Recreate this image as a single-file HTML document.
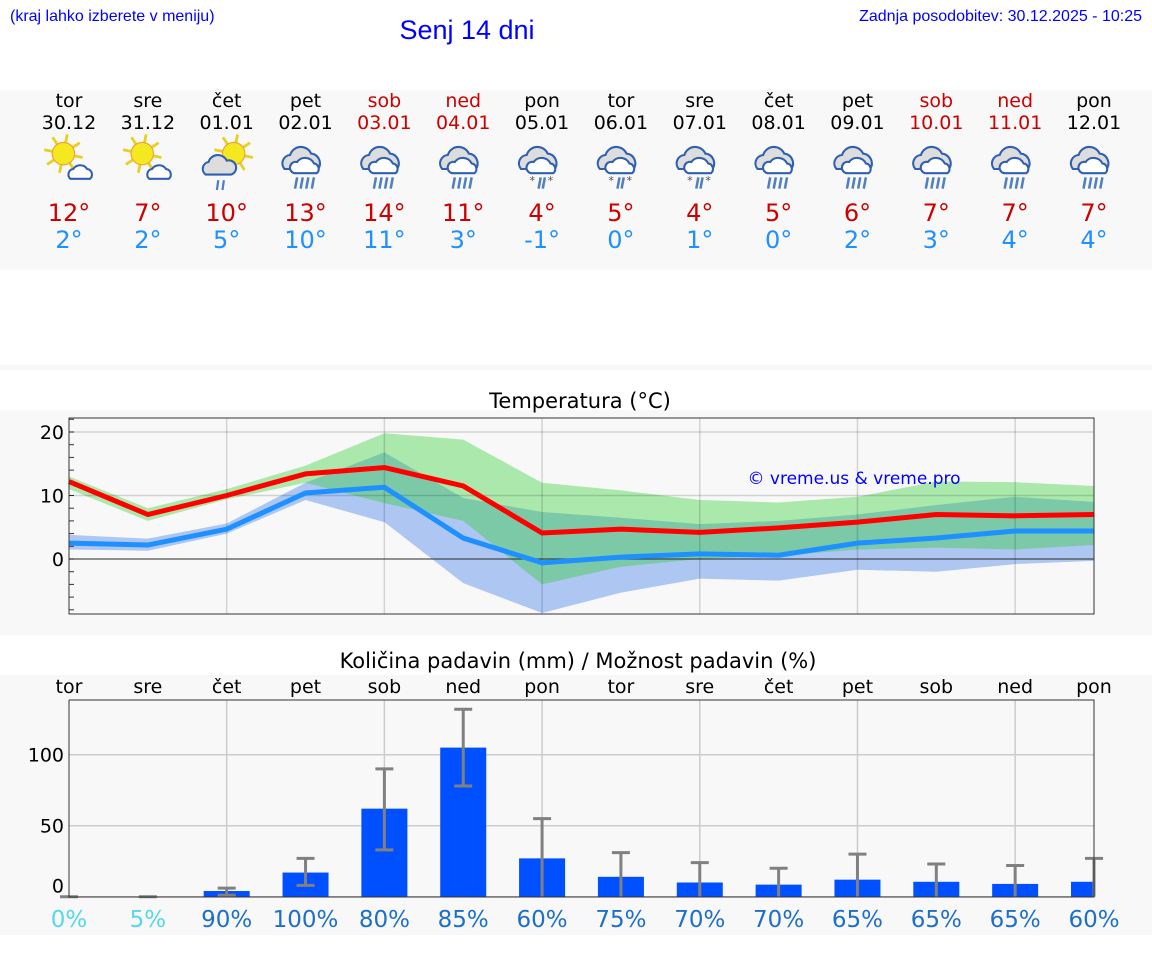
<!DOCTYPE html>
<html><head><meta charset="utf-8"><style>
body{margin:0;background:#fff;width:1152px;height:975px;overflow:hidden;font-family:"Liberation Sans","DejaVu Sans",sans-serif}
svg text{font-family:"DejaVu Sans","Liberation Sans",sans-serif}
</style></head><body>
<svg id="s" width="1152" height="975" xmlns="http://www.w3.org/2000/svg">
<rect x="0" y="90" width="1152" height="180" fill="#f8f8f8"/>
<rect x="0" y="365" width="1152" height="5" fill="#f8f8f8"/>
<rect x="0" y="410" width="1152" height="225" fill="#f8f8f8"/>
<rect x="0" y="675" width="1152" height="260" fill="#f8f8f8"/>
<text x="10" y="21" font-size="16" fill="#0000ff" style="font-family:'Liberation Sans',sans-serif">(kraj lahko izberete v meniju)</text>
<text x="467" y="39" font-size="27" fill="#0000ff" text-anchor="middle" style="font-family:'Liberation Sans',sans-serif">Senj 14 dni</text>
<text x="1142" y="21" font-size="16" fill="#0000ff" text-anchor="end" style="font-family:'Liberation Sans',sans-serif">Zadnja posodobitev: 30.12.2025 - 10:25</text>
<text x="580" y="408" font-size="21" text-anchor="middle">Temperatura (°C)</text>
<text x="578" y="668" font-size="21" text-anchor="middle">Količina padavin (mm) / Možnost padavin (%)</text>
<g id="g"></g>
</svg>
<script>
const days=["tor","sre","čet","pet","sob","ned","pon","tor","sre","čet","pet","sob","ned","pon"];
const dates=["30.12","31.12","01.01","02.01","03.01","04.01","05.01","06.01","07.01","08.01","09.01","10.01","11.01","12.01"];
const weekend=[0,0,0,0,1,1,0,0,0,0,0,1,1,0];
const icons=["sc","sc","sr","r","r","r","rs","rs","rs","r","r","r","r","r"];
const tMax=[12.2,7,10,13.4,14.4,11.5,4.1,4.7,4.2,4.9,5.8,7,6.8,7];
const tMin=[2.5,2.2,4.7,10.4,11.3,3.3,-0.6,0.3,0.8,0.6,2.5,3.3,4.4,4.4];
const maxHi=[13,8,11,14.7,19.8,18.8,12,10.8,9.3,8.9,9.8,12.2,12.1,11.5];
const maxLo=[11,6,9.4,12,8.8,6,-4,-1.2,0,0.5,1.5,1.8,1.5,2.2];
const minHi=[3.8,3.2,5.6,12,16.8,9.6,7.4,6.5,5.5,6,7,8.5,9.8,9];
const minLo=[1.5,1.3,4,9.3,5.8,-3.8,-8.5,-5.3,-3.1,-3.4,-1.7,-2,-0.8,-0.3];
const maxLbl=[12,7,10,13,14,11,4,5,4,5,6,7,7,7];
const minLbl=[2,2,5,10,11,3,-1,0,1,0,2,3,4,4];
const precip=[0,0,4,17,62,105,27,14,10,8.5,12,10.5,9,10.5];
const errLo=[0,0,1,8,33,78,0,0,0,0,0,0,0,0];
const errHi=[0,0,6,27,90,132,55,31,24,20,30,23,22,27];
const chance=[0,5,90,100,80,85,60,75,70,70,65,65,65,60];
const tTicks=[0,10,20];
const pTicks=[0,50,100];
const NS="http://www.w3.org/2000/svg",g=document.getElementById("g");
function mk(t,a,txt){const e=document.createElementNS(NS,t);for(const k in a)e.setAttribute(k,a[k]);if(txt!==undefined)e.textContent=txt;g.appendChild(e);return e;}
const X=i=>69+i*(1094-69)/13;
const TY=v=>559-v*6.35;
const PY=v=>896.7-v*1.42;
days.forEach((d,i)=>{
 const c=weekend[i]?"#cc0000":"#000";
 let e=mk("text",{x:X(i),y:107,"font-size":19,"text-anchor":"middle",fill:c},d);
 
 e=mk("text",{x:X(i),y:129,"font-size":19,"text-anchor":"middle",fill:c},dates[i]);
 
 e=mk("text",{x:X(i),y:221,"font-size":24,"text-anchor":"middle",fill:"#cc0000"},maxLbl[i]+"°");
 
 e=mk("text",{x:X(i),y:248,"font-size":24,"text-anchor":"middle",fill:"#1e90ff"},minLbl[i]+"°");
 
 const ic=document.createElementNS(NS,"g");ic.setAttribute("transform",`translate(${X(i)},162) scale(1.4)`);
 
 let h="";
 if(icons[i]=="sc"||icons[i]=="sr"){
  const sx=icons[i]=="sc"?-4:5, sy=-6;
  for(let k=0;k<8;k++){const a=k*Math.PI/4+0.2;h+=`<line x1="${sx+Math.cos(a)*8}" y1="${sy+Math.sin(a)*8}" x2="${sx+Math.cos(a)*14}" y2="${sy+Math.sin(a)*14}" stroke="#e8d020" stroke-width="2"/>`;}
  h+=`<circle cx="${sx}" cy="${sy}" r="8" fill="#f4e820" stroke="#f0a030" stroke-width="0.8"/>`;
  if(icons[i]=="sc") h+=`<path d="M1 12 a4 4 0 0 1 2-7 a6 6 0 0 1 10 0 a4 4 0 0 1 2 7 z" fill="#fff" stroke="#3060b0" stroke-width="1.5"/>`;
  else h+=`<path d="M-15 9 a5 5 0 0 1 2-9 a7 7 0 0 1 13-1 a5 5 0 0 1 3 10 z" fill="#ddd" stroke="#3060b0" stroke-width="1.5"/><line x1="-6" y1="13" x2="-7" y2="20" stroke="#5080c0" stroke-width="1.6"/><line x1="-2" y1="13" x2="-3" y2="20" stroke="#5080c0" stroke-width="1.6"/>`;
 } else {
  h+=`<path d="M-15 5 a6 6 0 0 1 4-10 a8 8 0 0 1 15-1 a7 7 0 0 1 5 11 z" fill="#ddd" stroke="#3060b0" stroke-width="1.5"/><path d="M-8 8 a4 4 0 0 1 2-8 a7 7 0 0 1 12 1 a4 4 0 0 1 2 7 z" fill="#fff" stroke="#3060b0" stroke-width="1.5"/>`;
  const xs=icons[i]=="r"?[-6,-2,2,6]:[-1,2];
  xs.forEach(x=>h+=`<line x1="${x}" y1="11" x2="${x-1.5}" y2="19" stroke="#5080c0" stroke-width="1.8"/>`);
  if(icons[i]=="rs") h+=`<text x="-9" y="16" font-size="8" fill="#555">*</text><text x="4" y="16" font-size="8" fill="#555">*</text>`;
 }
 ic.innerHTML=h;g.appendChild(ic);
});
let e;
const band=(hi,lo)=>hi.map((v,i)=>X(i)+","+TY(v)).concat(lo.map((v,i)=>X(i)+","+TY(v)).reverse()).join(" ");
e=mk("polygon",{points:band(minHi,minLo),fill:"#adc6f2"});
e=mk("polygon",{points:band(maxHi,maxLo),fill:"rgba(42,208,42,0.373)"});
for(let v=-8;v<=22;v+=2){e=mk("line",{x1:69,x2:74,y1:TY(v),y2:TY(v),stroke:"#333"});}
tTicks.forEach(v=>{e=mk("line",{x1:69,x2:1094,y1:TY(v),y2:TY(v),stroke:v==0?"rgba(40,40,40,0.8)":"rgba(0,0,0,0.15)","stroke-width":v==0?1.3:1.5});
 e=mk("text",{x:64,y:TY(v)+7,"font-size":19,"text-anchor":"end"},v);});
for(let i=2;i<14;i+=2){e=mk("line",{x1:X(i),x2:X(i),y1:418,y2:614,stroke:"rgba(0,0,0,0.15)","stroke-width":1.5});}
e=mk("polyline",{points:tMin.map((v,i)=>X(i)+","+TY(v)).join(" "),fill:"none",stroke:"#1e90ff","stroke-width":5});
e=mk("polyline",{points:tMax.map((v,i)=>X(i)+","+TY(v)).join(" "),fill:"none",stroke:"#ff0000","stroke-width":5});
e=mk("rect",{x:69,y:418,width:1025,height:196,fill:"none",stroke:"#333"});
e=mk("text",{x:854,y:484,"font-size":17,"text-anchor":"middle",fill:"#0000ff"},"© vreme.us & vreme.pro");
pTicks.forEach(v=>{e=mk("line",{x1:69,x2:1094,y1:PY(v),y2:PY(v),stroke:"#ccc","stroke-width":1.5});
 e=mk("text",{x:64,y:PY(v)+(v==0?-4:7),"font-size":19,"text-anchor":"end"},v);});
for(let i=2;i<14;i+=2){e=mk("line",{x1:X(i),x2:X(i),y1:700,y2:897,stroke:"#ccc","stroke-width":1.5});}
days.forEach((d,i)=>{
 e=mk("text",{x:X(i),y:693,"font-size":19,"text-anchor":"middle"},d);
 const w=46,x0=Math.max(69,X(i)-w/2),x1=Math.min(1094,X(i)+w/2);
 e=mk("rect",{x:x0,y:PY(precip[i]),width:x1-x0,height:PY(0)-PY(precip[i]),fill:"#0050ff"});
 if(errHi[i]>0){
  e=mk("line",{x1:X(i),x2:X(i),y1:PY(errHi[i]),y2:PY(errLo[i]),stroke:"#808080","stroke-width":3});
  e=mk("line",{x1:X(i)-9,x2:X(i)+9,y1:PY(errHi[i]),y2:PY(errHi[i]),stroke:"#808080","stroke-width":3});
  if(errLo[i]>0){e=mk("line",{x1:X(i)-9,x2:X(i)+9,y1:PY(errLo[i]),y2:PY(errLo[i]),stroke:"#808080","stroke-width":3});}
 } else {e=mk("line",{x1:X(i)-9,x2:X(i)+9,y1:PY(0),y2:PY(0),stroke:"#808080","stroke-width":3});}
 e=mk("text",{x:X(i),y:927,"font-size":23,"text-anchor":"middle",fill:chance[i]<30?"#55d8e8":"#1e6fc8"},chance[i]+"%");
});
e=mk("polyline",{points:"69,700 69,897 1094,897 1094,700 69,700",fill:"none",stroke:"#333"});
</script>
</body></html>
